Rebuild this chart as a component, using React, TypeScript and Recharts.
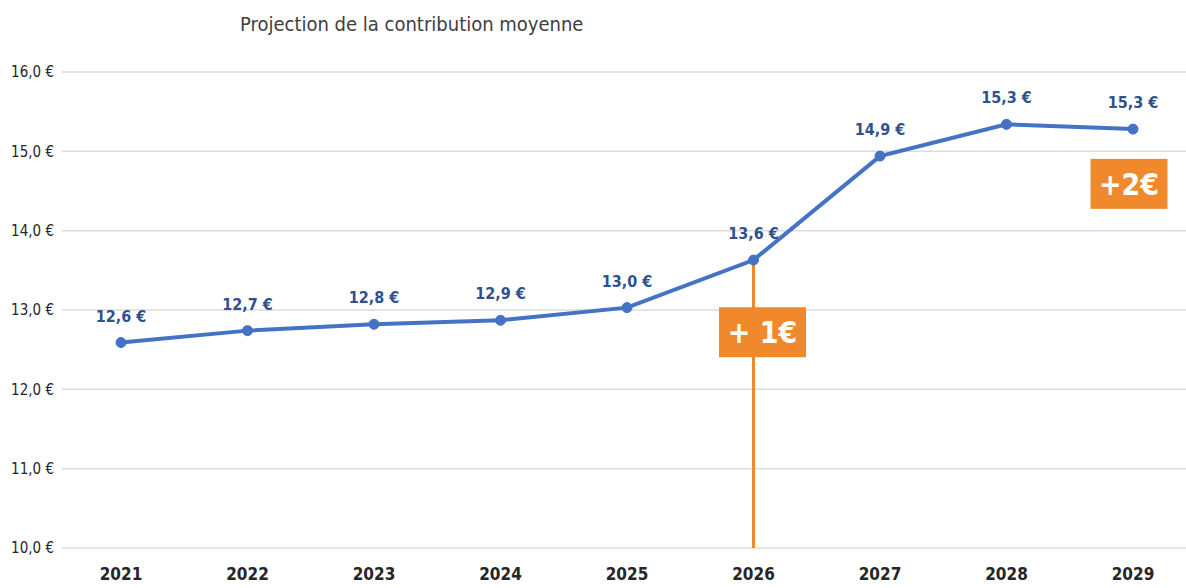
import React from 'react';
import {
  LineChart,
  Line,
  XAxis,
  YAxis,
  CartesianGrid,
  ReferenceLine,
  ReferenceDot,
  LabelList,
} from 'recharts';

const years = ['2021', '2022', '2023', '2024', '2025', '2026', '2027', '2028', '2029'];
const contribution = [12.59, 12.74, 12.82, 12.87, 13.03, 13.63, 14.94, 15.34, 15.28];
const yTicks = [10, 11, 12, 13, 14, 15, 16];

// orange call-outs: year, level of the box centre, text
const callouts = [
  { year: '2026', y: 12.72, text: '+ 1€', dx: 9, w: 87 },
  { year: '2029', y: 14.59, text: '+2€', dx: -4, w: 77 },
];
const markerYear = '2026';
const markerTop = 13.63;

const data = years.map((year, i) => ({ year, value: contribution[i] }));

const FONT = '"DejaVu Sans Condensed", "Liberation Sans Narrow", "Open Sans", sans-serif';
const fmt = (v: number) => `${v.toFixed(1).replace('.', ',')} €`;

const ValueLabel = (props: any) => {
  const { x, y, value } = props;
  return (
    <text
      x={x}
      y={y - 21}
      textAnchor="middle"
      fill="#2F528F"
      fontSize={16}
      fontWeight={700}
      fontFamily={FONT}
    >
      {fmt(value)}
    </text>
  );
};

const calloutShape = (c: (typeof callouts)[number]) => (props: any) => {
  const { cx, cy } = props;
  const h = 50;
  return (
    <g>
      <rect x={cx + c.dx - c.w / 2} y={cy - h / 2} width={c.w} height={h} fill="#F0892B" />
      <text
        x={cx + c.dx}
        y={cy + 11}
        textAnchor="middle"
        fill="#fff"
        fontSize={30}
        fontWeight={700}
        fontFamily={FONT}
      >
        {c.text}
      </text>
    </g>
  );
};

const App: React.FC = () => {
  return (
    <div style={{ position: 'absolute', left: 0, top: 0, width: 1186, height: 588, background: '#fff' }}>
      <div
        style={{
          position: 'absolute',
          left: 240,
          top: 12,
          fontFamily: FONT,
          fontSize: 20,
          color: '#404040',
        }}
      >
        Projection de la contribution moyenne
      </div>
      <LineChart width={1186} height={588} data={data} margin={{ top: 72, right: 0, bottom: 0, left: 0 }}>
        <CartesianGrid horizontal vertical={false} stroke="#dcdcdc" strokeWidth={1.5} />
        <XAxis
          dataKey="year"
          padding={{ left: 59, right: 53 }}
          axisLine={false}
          tickLine={false}
          height={40}
          tick={{ fill: '#262626', fontSize: 17, fontWeight: 700, fontFamily: FONT }}
          tickMargin={14}
        />
        <YAxis
          domain={[10, 16]}
          ticks={yTicks}
          width={62}
          axisLine={false}
          tickLine={false}
          tick={{ fill: '#262626', fontSize: 15, fontFamily: FONT }}
          tickFormatter={fmt}
        />
        <ReferenceLine
          segment={[
            { x: markerYear, y: 10 },
            { x: markerYear, y: markerTop },
          ]}
          stroke="#F0892B"
          strokeWidth={3}
        />
        <Line
          type="linear"
          dataKey="value"
          stroke="#4472C4"
          strokeWidth={4}
          dot={{ r: 5, fill: '#4472C4', stroke: '#4472C4', strokeWidth: 1 }}
          isAnimationActive={false}
        >
          <LabelList dataKey="value" content={<ValueLabel />} />
        </Line>
        {callouts.map((c) => (
          <ReferenceDot key={c.year} x={c.year} y={c.y} r={1} shape={calloutShape(c)} />
        ))}
      </LineChart>
    </div>
  );
};

export default App;
